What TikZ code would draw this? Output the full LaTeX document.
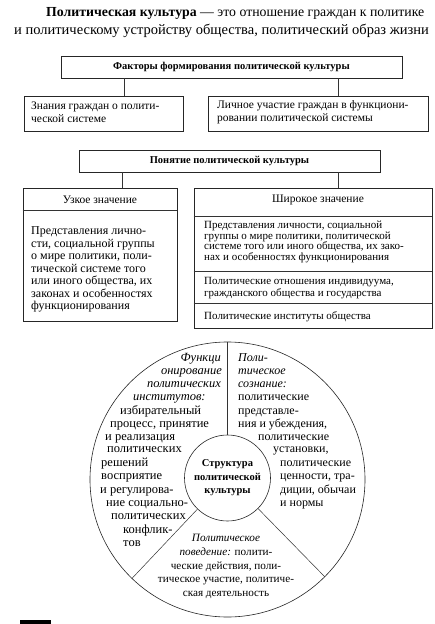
\documentclass[tikz,border=0pt]{standalone}
\usepackage{fontspec}
\setmainfont{Liberation Serif}
\begin{document}
\begin{tikzpicture}[x=1pt,y=-1pt,
  box/.style={draw=black!85, line width=0.6pt, inner sep=0pt},
  bt/.style={font=\fontsize{11.5}{12.5}\selectfont, inner sep=0pt, align=left},
  hd/.style={font=\bfseries\fontsize{10.5}{12}\selectfont, inner sep=0pt},
  ctl/.style={font=\fontsize{12.5}{13}\selectfont, inner sep=0pt},
  ctr/.style={font=\fontsize{12}{13}\selectfont, inner sep=0pt},
  sep/.style={draw=black!80, line width=0.5pt},
  ]
\useasboundingbox (0,0) rectangle (434,624);
\clip (0,0) rectangle (434,624);

% title
\node[anchor=base west, font=\fontsize{13.8}{16}\selectfont, inner sep=0pt] (t1) at (46,16)
  {\textbf{Политическая культура} — это отношение граждан к политике};
\node[anchor=base west, font=\fontsize{14.5}{16}\selectfont, inner sep=0pt] (t2) at (14,34)
  {и политическому устройству общества, политический образ жизни};

% factors
\node[box, hd, minimum width=341, minimum height=22] (f) at (231.5,67) {Факторы формирования политической культуры};
\coordinate (c1) at (124,96);
\coordinate (c2) at (338,96);
\draw[sep] (c1 |- f.south) -- (c1);
\draw[sep] (c2 |- f.south) -- (c2);
\node[box, minimum width=159, minimum height=35] (z1) at (103.5,113.5) {};
\node[bt, anchor=west] (z1t) at (31,112) {Знания граждан о полити-\\ческой системе};
\node[box, minimum width=220, minimum height=35] (z2) at (318,113.5) {};
\node[bt, anchor=west] (z2t) at (217,112) {Личное участие граждан в функциони-\\ровании политической системы};

% concept
\node[box, hd, minimum width=301, minimum height=22] (p) at (229.5,161) {Понятие политической культуры};
\coordinate (c3) at (122,188);
\coordinate (c4) at (338,188);
\draw[sep] (c3 |- p.south) -- (c3);
\draw[sep] (c4 |- p.south) -- (c4);

% narrow meaning
\node[box, minimum width=154, minimum height=133] (nb) at (100,254.5) {};
\node[bt] (nbh) at (100,200) {Узкое значение};
\coordinate (s1) at (100,210);
\draw[sep] (nb.west |- s1) -- (nb.east |- s1);
\node[bt, anchor=north west, font=\fontsize{12}{12.5}\selectfont] (nbt) at (31,226.5) {Представления лично-\\сти, социальной группы\\о мире политики, поли-\\тической системе того\\или иного общества, их\\законах и особенностях\\функционирования};

% wide meaning
\node[box, minimum width=238, minimum height=140] (wb) at (313,258) {};
\node[bt] (wbh) at (318,200) {Широкое значение};
\coordinate (s2) at (313,216);
\coordinate (s3) at (313,271);
\coordinate (s4) at (313,303);
\draw[sep] (wb.west |- s2) -- (wb.east |- s2);
\draw[sep] (wb.west |- s3) -- (wb.east |- s3);
\draw[sep] (wb.west |- s4) -- (wb.east |- s4);
\node[bt, anchor=north west, font=\fontsize{11}{10.8}\selectfont] (w1) at (204,220.5) {Представления личности, социальной\\группы о мире политики, политической\\системе того или иного общества, их зако-\\нах и особенностях функционирования};
\node[bt, anchor=west, font=\fontsize{11}{12.5}\selectfont] (w2) at (204,288) {Политические отношения индивидуума,\\гражданского общества и государства};
\node[bt, anchor=west, font=\fontsize{11}{12.5}\selectfont] (w3) at (204,317) {Политические институты общества};

% structure circle
\node[circle, draw=black!85, line width=0.6pt, minimum size=275, inner sep=0pt] (outer) at (227.5,479.5) {};
\node[circle, draw=black!85, line width=0.6pt, minimum size=86, inner sep=0pt, align=center,
      font=\bfseries\fontsize{10.5}{13.5}\selectfont] (core) at (227.5,478) {Структура\\политической\\культуры};
\draw[sep] (core.90) -- (outer.90);
\draw[sep] (core.226) -- (outer.226);
\draw[sep] (core.-45) -- (outer.-45);

% left sector
\foreach \i/\x/\y/\txt in {
  1/221/358/\textit{Функци},
  2/222/371/\textit{онирование},
  3/221/384/\textit{политических}}
  \node[ctl, anchor=base east] (la\i) at (\x,\y+3.5) {\txt};
\foreach \i/\x/\y/\txt in {
  4/133/397/\textit{институтов:},
  5/120/411/избирательный,
  6/110/424/{процесс, принятие},
  7/105/437/и реализация,
  8/107/449/политических,
  9/101/463/решений,
  10/101/476/восприятие,
  11/100/490/и регулирова-,
  12/106/503/ние социально-,
  13/111/516/политических,
  14/123/530/конфлик-,
  15/123/543/тов}
  \node[ctl, anchor=base west] (lb\i) at (\x,\y+3.5) {\txt};

% right sector
\foreach \i/\x/\y/\txt in {
  1/238/358/\textit{Поли-},
  2/238/371/\textit{тическое},
  3/238/384/\textit{сознание:},
  4/238/397/политические,
  5/238/411/представле-,
  6/238/424/{ния и убеждения,},
  7/258/437/политические,
  8/273/449/{установки,},
  9/280/463/политические,
  10/280/476/{ценности, тра-},
  11/280/490/{диции, обычаи},
  12/280/503/и нормы}
  \node[ctr, anchor=base west] (r\i) at (\x,\y+3.5) {\txt};

% bottom sector
\node[inner sep=0pt, align=center, font=\fontsize{11.2}{13.7}\selectfont] (bot) at (226,566.5)
  {\textit{Политическое}\\\textit{поведение:} полити-\\ческие действия, поли-\\тическое участие, политиче-\\ская деятельность};

% black mark
\fill[black] (20,619.5) rectangle (51,624);
\end{tikzpicture}
\end{document}
